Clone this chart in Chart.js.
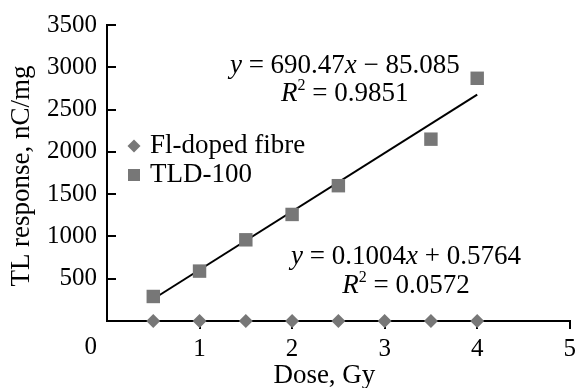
<!DOCTYPE html>
<html>
<head>
<meta charset="utf-8">
<script src="https://cdn.jsdelivr.net/npm/chart.js@4.4.0/dist/chart.umd.min.js"></script>
<style>
body { margin: 0; background: #fff; }
#wrap { width: 581px; height: 388px; }
</style>
</head>
<body>
<div id="wrap"><canvas id="myChart" width="581" height="388"></canvas></div>
<script>
// values
var fibreDoses = [0.5, 1, 1.5, 2, 2.5, 3, 3.5, 4];
var fibreResponse = [0.7, 0.6, 0.8, 0.9, 0.6, 0.8, 1.0, 0.9];
var tldDoses = [0.5, 1, 1.5, 2, 2.5, 3.5, 4];
var tldResponse = [290, 590, 960, 1260, 1600, 2150, 2870];
var tldFit = [690.47, -85.085];   // slope, intercept (from the equation)
var fitRange = [0.5, 4];
var xTicks = [0, 1, 2, 3, 4, 5];
var yTicks = [0, 500, 1000, 1500, 2000, 2500, 3000, 3500];

var serif = "'Liberation Serif', 'Times New Roman', serif";
var grey = '#777777';
var tickSize = 25;
var textSize = 27;

function pts(xs, ys) {
    return xs.map(function(x, i) { return {x: x, y: ys[i]}; });
}

var fitLine = fitRange.map(function(x) { return {x: x, y: tldFit[0] * x + tldFit[1]}; });

// equation labels, anchored in data units
var notes = [
    {x: 2.57, y: 3020, parts: [{t: 'y', i: 1}, {t: ' = 690.47'}, {t: 'x', i: 1}, {t: ' \u2212 85.085'}]},
    {x: 2.57, y: 2690, parts: [{t: 'R', i: 1}, {t: '2', s: 1}, {t: ' = 0.9851'}]},
    {x: 3.23, y: 755, parts: [{t: 'y', i: 1}, {t: ' = 0.1004'}, {t: 'x', i: 1}, {t: ' + 0.5764'}]},
    {x: 3.23, y: 415, parts: [{t: 'R', i: 1}, {t: '2', s: 1}, {t: ' = 0.0572'}]}
];

function partFont(p) {
    var size = p.s ? Math.round(textSize * 0.6) : textSize;
    return (p.i ? 'italic ' : '') + size + 'px ' + serif;
}

function drawRich(ctx, parts, cx, cy) {
    var total = 0;
    parts.forEach(function(p) {
        ctx.font = partFont(p);
        p.w = ctx.measureText(p.t).width;
        total += p.w;
    });
    var x = cx - total / 2;
    ctx.textAlign = 'left';
    ctx.textBaseline = 'middle';
    parts.forEach(function(p) {
        ctx.font = partFont(p);
        ctx.fillText(p.t, x, p.s ? cy - textSize * 0.3 : cy);
        x += p.w;
    });
}

var extras = {
    id: 'extras',
    afterDraw: function(chart) {
        var ctx = chart.ctx, a = chart.chartArea;
        var xs = chart.scales.x, ys = chart.scales.y;
        ctx.save();
        ctx.fillStyle = '#000';
        ctx.strokeStyle = '#000';

        // inward y tick marks
        ctx.lineWidth = 2;
        yTicks.forEach(function(v) {
            if (v === 0) return;
            var y = Math.round(ys.getPixelForValue(v));
            ctx.beginPath();
            ctx.moveTo(a.left, y);
            ctx.lineTo(a.left + 9, y);
            ctx.stroke();
        });

        // shared origin label
        ctx.font = tickSize + 'px ' + serif;
        ctx.textAlign = 'right';
        ctx.textBaseline = 'middle';
        ctx.fillText('0', a.left - 10, a.bottom + 26);

        // axis titles
        ctx.font = textSize + 'px ' + serif;
        ctx.textAlign = 'center';
        ctx.fillText('Dose, Gy', (a.left + a.right) / 2 - 14, a.bottom + 55);
        ctx.save();
        ctx.translate(22, (a.top + a.bottom) / 2 + 3);
        ctx.rotate(-Math.PI / 2);
        ctx.fillText('TL response, nC/mg', 0, 0);
        ctx.restore();

        // equations
        notes.forEach(function(n) {
            drawRich(ctx, n.parts, xs.getPixelForValue(n.x), ys.getPixelForValue(n.y));
        });

        // legend inside the plot
        var lx = a.left + 27, ly = a.top + 121;
        chart.data.datasets.forEach(function(ds) {
            if (!ds.legend) return;
            ctx.fillStyle = ds.backgroundColor;
            ctx.beginPath();
            if (ds.pointStyle === 'rectRot') {
                ctx.moveTo(lx, ly - 6.5);
                ctx.lineTo(lx + 6.5, ly);
                ctx.lineTo(lx, ly + 6.5);
                ctx.lineTo(lx - 6.5, ly);
                ctx.closePath();
            } else {
                ctx.rect(lx - 6, ly - 6, 12, 12);
            }
            ctx.fill();
            ctx.fillStyle = '#000';
            ctx.font = textSize + 'px ' + serif;
            ctx.textAlign = 'left';
            ctx.fillText(ds.label, lx + 16, ly);
            ly += 29;
        });
        ctx.restore();
    }
};

new Chart(document.getElementById('myChart').getContext('2d'), {
    type: 'scatter',
    data: {
        datasets: [{
            label: 'Fl-doped fibre',
            data: pts(fibreDoses, fibreResponse),
            pointStyle: 'rectRot',
            pointRadius: 7,
            pointHoverRadius: 7,
            backgroundColor: grey,
            borderColor: grey,
            borderWidth: 0,
            clip: false,
            legend: true
        }, {
            label: 'TLD-100',
            data: pts(tldDoses, tldResponse),
            pointStyle: 'rect',
            pointRadius: 9.5,
            pointHoverRadius: 9.5,
            backgroundColor: grey,
            borderColor: grey,
            borderWidth: 0,
            clip: false,
            legend: true
        }, {
            label: 'fit',
            data: fitLine,
            showLine: true,
            pointRadius: 0,
            borderColor: '#000',
            borderWidth: 2,
            backgroundColor: '#000'
        }]
    },
    options: {
        responsive: false,
        animation: false,
        layout: {padding: {top: 22, right: 7, left: 0, bottom: 0}},
        plugins: {
            legend: {display: false},
            tooltip: {enabled: false}
        },
        scales: {
            x: {
                type: 'linear',
                min: 0,
                max: 5,
                afterBuildTicks: function(s) { s.ticks = xTicks.map(function(v) { return {value: v}; }); },
                afterFit: function(s) { s.height = 67; },
                border: {color: '#000', width: 2},
                grid: {
                    drawOnChartArea: false,
                    drawTicks: true,
                    tickLength: 8,
                    lineWidth: 2,
                    color: function(c) { return c.tick && c.tick.value === 0 ? 'rgba(0,0,0,0)' : '#000'; }
                },
                ticks: {
                    color: '#000',
                    padding: 5,
                    maxRotation: 0,
                    font: {family: serif, size: tickSize},
                    callback: function(v) { return v === 0 ? '' : v; }
                }
            },
            y: {
                type: 'linear',
                min: 0,
                max: 3500,
                afterBuildTicks: function(s) { s.ticks = yTicks.map(function(v) { return {value: v}; }); },
                afterFit: function(s) { s.width = 107; },
                border: {color: '#000', width: 2},
                grid: {drawOnChartArea: false, drawTicks: false},
                ticks: {
                    color: '#000',
                    padding: 10,
                    font: {family: serif, size: tickSize},
                    callback: function(v) { return v === 0 ? '' : v; }
                }
            }
        }
    },
    plugins: [extras]
});
</script>
</body>
</html>
